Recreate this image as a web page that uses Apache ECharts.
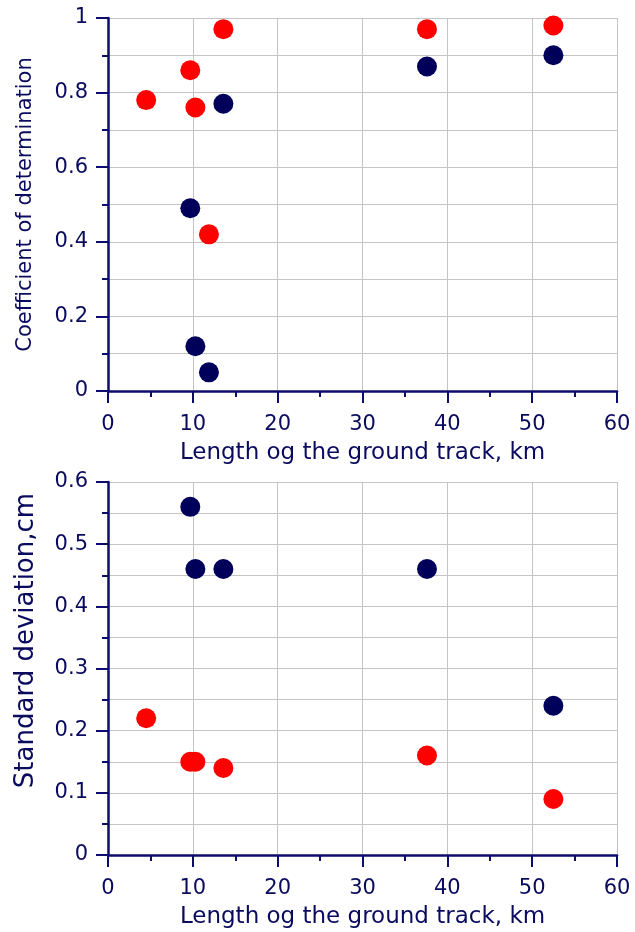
<!DOCTYPE html>
<html>
<head>
<meta charset="utf-8">
<script src="https://cdn.jsdelivr.net/npm/echarts@6/dist/echarts.min.js"></script>
<style>
  html, body { margin: 0; padding: 0; background: #ffffff; }
  #chart { width: 635px; height: 932px; }
</style>
</head>
<body>
<div id="chart"></div>
<script>
// Ground track lengths, km (shared by both panels)
const trackLength = [4.5, 9.7, 10.3, 11.9, 13.6, 37.6, 52.5];

// Coefficient of determination (upper panel)
const r2Red  = [0.78, 0.86, 0.76, 0.42, 0.97, 0.97, 0.98];
const r2Navy = [null, 0.49, 0.12, 0.05, 0.77, 0.87, 0.90];

// Standard deviation, cm (lower panel)
const sdNavy = [null, 0.56, 0.46, null, 0.46, 0.46, 0.24];
const sdRed  = [0.22, 0.15, 0.15, null, 0.14, 0.16, 0.09];

// Axis titles
const xTitle = 'Length og the ground track, km';
const yTitleTop = 'Coefficient of determination';
const yTitleBottom = 'Standard deviation,cm';

const RED = '#ff0000';
const NAVY = '#00005a';
const AXIS = '#0c0c6e';
const TEXT = '#0a0a5e';
const GRIDLINE = '#c4c4c4';
const FONT = 'DejaVu Sans';
const LABEL_SIZE = 21;

function pairs(xs, ys) {
  const out = [];
  xs.forEach((x, i) => { if (ys[i] !== null) out.push([x, ys[i]]); });
  return out;
}

const labelStyle = (margin) => ({
  show: true, color: TEXT, fontFamily: FONT, fontSize: LABEL_SIZE, margin
});

function xAxis(gridIndex) {
  return {
    type: 'value', gridIndex, min: 0, max: 60, interval: 10,
    name: xTitle, nameLocation: 'middle', nameGap: 51,
    nameTextStyle: { color: TEXT, fontFamily: FONT, fontSize: 23 },
    axisLine: { show: true, onZero: false, lineStyle: { color: AXIS, width: 2.5 } },
    axisTick: { show: true, inside: false, length: 12, lineStyle: { color: AXIS, width: 2 } },
    minorTick: { show: true, splitNumber: 2, length: 6, lineStyle: { color: AXIS, width: 2 } },
    axisLabel: labelStyle(23),
    splitLine: { show: true, lineStyle: { color: GRIDLINE, width: 1 } }
  };
}

function yAxis(gridIndex, max, interval, title, titleSize, gap, shift) {
  return {
    type: 'value', gridIndex, min: 0, max, interval,
    name: title, nameLocation: 'middle', nameGap: gap, nameRotate: 90,
    nameTextStyle: { color: TEXT, fontFamily: FONT, fontSize: titleSize, padding: [0, 0, 0, shift] },
    axisLine: { show: true, onZero: false, lineStyle: { color: AXIS, width: 2.5 } },
    axisTick: { show: true, inside: false, length: 12, lineStyle: { color: AXIS, width: 2 } },
    minorTick: { show: true, splitNumber: 2, length: 6, lineStyle: { color: AXIS, width: 2 } },
    axisLabel: labelStyle(20),
    splitLine: { show: true, lineStyle: { color: GRIDLINE, width: 1 } },
    minorSplitLine: { show: true, lineStyle: { color: GRIDLINE, width: 1 } }
  };
}

function dots(name, xi, data, color) {
  return {
    name, type: 'scatter', xAxisIndex: xi, yAxisIndex: xi,
    data, symbol: 'circle', symbolSize: 20,
    itemStyle: { color, opacity: 1 }, silent: true, animation: false
  };
}

const chart = echarts.init(document.getElementById('chart'), null, { renderer: 'canvas' });
chart.setOption({
  backgroundColor: '#ffffff',
  animation: false,
  textStyle: { fontFamily: FONT, color: TEXT },
  grid: [
    { left: 108, right: 18, top: 18, height: 373, containLabel: false },
    { left: 108, right: 18, top: 482, height: 373, containLabel: false }
  ],
  xAxis: [xAxis(0), xAxis(1)],
  yAxis: [
    yAxis(0, 1, 0.2, yTitleTop, 21, 72, 0),
    yAxis(1, 0.6, 0.1, yTitleBottom, 26, 69, 56)
  ],
  series: [
    dots('R2 red', 0, pairs(trackLength, r2Red), RED),
    dots('R2 navy', 0, pairs(trackLength, r2Navy), NAVY),
    dots('SD navy', 1, pairs(trackLength, sdNavy), NAVY),
    dots('SD red', 1, pairs(trackLength, sdRed), RED)
  ]
});
</script>
</body>
</html>
